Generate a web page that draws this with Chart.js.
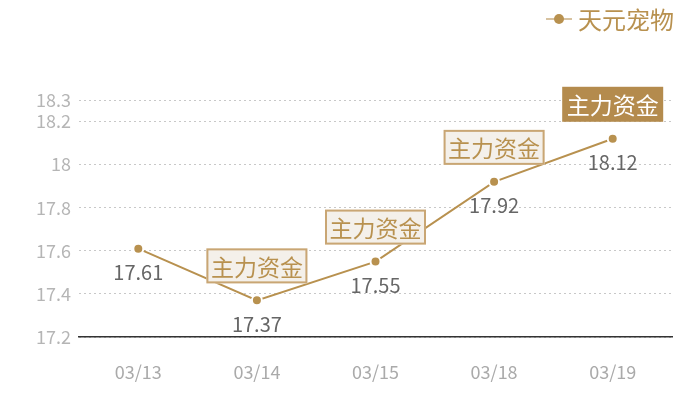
<!DOCTYPE html>
<html><head><meta charset="utf-8">
<script src="https://cdn.jsdelivr.net/npm/chart.js@4"></script>
<style>html,body{margin:0;padding:0;background:#fff}#wrap{width:700px;height:400px}</style>
</head><body><div id="wrap"><canvas id="c"></canvas></div>
<script>
const categories = ['03/13','03/14','03/15','03/18','03/19'];
const prices = [17.61, 17.37, 17.55, 17.92, 18.12];
const yTicks = [17.2, 17.4, 17.6, 17.8, 18, 18.2, 18.3];
const seriesName = '天元宠物';
const tagText = '主力资金';
const tagged = [false, true, true, true, true];
const highlighted = [false, false, false, false, true];

const gold = '#b8914f';
const font = '"Noto Sans CJK SC", "Noto Sans", sans-serif';

const overlay = {
  id: 'overlay',
  afterDatasetsDraw(chart) {
    const ctx = chart.ctx;
    const meta = chart.getDatasetMeta(0);
    ctx.save();
    meta.data.forEach((pt, i) => {
      ctx.font = '20px ' + font;
      ctx.fillStyle = '#666';
      ctx.textAlign = 'center';
      ctx.textBaseline = 'middle';
      ctx.fillText(String(prices[i]), pt.x, pt.y + 24);
      if (tagged[i]) {
        const w = 101, h = 35;
        const x = pt.x - w / 2, y = pt.y - 17 - h;
        if (highlighted[i]) {
          ctx.fillStyle = '#b48b4d';
          ctx.fillRect(x, y, w, h);
          ctx.fillStyle = '#fff';
        } else {
          ctx.fillStyle = '#f4f0ea';
          ctx.fillRect(x, y, w, h);
          ctx.strokeStyle = '#c9a674';
          ctx.lineWidth = 2;
          ctx.strokeRect(x + 1, y + 1, w - 2, h - 2);
          ctx.fillStyle = gold;
        }
        ctx.font = '23px ' + font;
        ctx.fillText(tagText, pt.x, y + h / 2 + 1);
      }
    });
    const lx = 578, ly = 19;
    ctx.strokeStyle = '#d7c2a0';
    ctx.lineWidth = 2;
    ctx.beginPath(); ctx.moveTo(lx - 32, ly); ctx.lineTo(lx - 6, ly); ctx.stroke();
    ctx.fillStyle = gold;
    ctx.beginPath(); ctx.arc(lx - 19, ly, 5, 0, Math.PI * 2); ctx.fill();
    ctx.font = '24px ' + font;
    ctx.textAlign = 'left';
    ctx.fillStyle = gold;
    ctx.fillText(seriesName, lx, ly + 1);
    ctx.restore();
  }
};

new Chart(document.getElementById('c'), {
  type: 'line',
  data: {
    labels: categories,
    datasets: [{
      label: seriesName,
      data: prices,
      borderColor: gold,
      borderWidth: 2,
      pointRadius: 5,
      pointBackgroundColor: gold,
      pointBorderColor: '#fff',
      pointBorderWidth: 2,
      tension: 0
    }]
  },
  options: {
    responsive: true,
    maintainAspectRatio: false,
    animation: false,
    layout: { padding: { left: 0, right: 28, top: 100, bottom: 0 } },
    plugins: { legend: { display: false }, tooltip: { enabled: false } },
    scales: {
      x: {
        offset: true,
        grid: { display: false, drawTicks: false },
        border: { display: true, color: '#333', width: 1.5 },
        ticks: { color: '#aaa', font: { size: 18, family: font }, padding: 24 },
        afterFit(s) { s.height = 63; }
      },
      y: {
        min: 17.2, max: 18.3,
        afterBuildTicks(s) { s.ticks = yTicks.map(v => ({ value: v })); },
        grid: { color: '#c8c8c8', lineWidth: 1, drawTicks: false },
        border: { display: false, dash: [2, 3] },
        ticks: { color: '#b5b5b5', font: { size: 18, family: font }, padding: 8, callback: v => String(v) },
        afterFit(s) { s.width = 79; }
      }
    }
  },
  plugins: [overlay]
});
</script></body></html>
